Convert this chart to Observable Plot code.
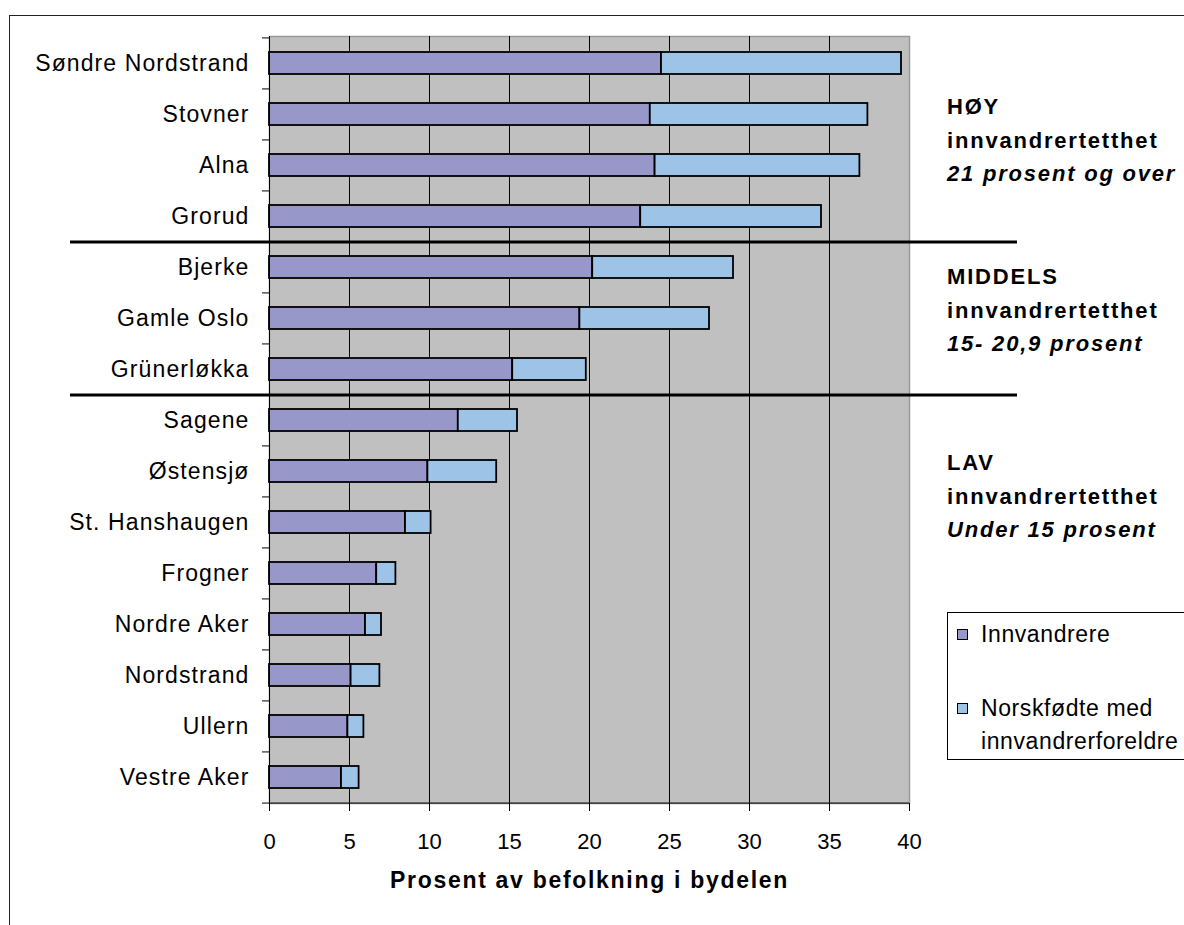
<!DOCTYPE html>
<html>
<head>
<meta charset="utf-8">
<script src="https://cdn.jsdelivr.net/npm/d3@7"></script>
<script src="https://cdn.jsdelivr.net/npm/@observablehq/plot@0.6"></script>
<style>
  html, body { margin: 0; padding: 0; background: #fff; }
  #wrap { position: relative; width: 1184px; height: 925px; overflow: hidden; font-family: "Liberation Sans", Arial, sans-serif; color: #000; }
  #outer { position: absolute; left: 9px; top: 15px; width: 2000px; height: 2000px; border-left: 1px solid #222; border-top: 1px solid #222; }
  #chart { position: absolute; left: 0; top: 0; }
  #chart svg [aria-label="y-axis tick label"] text { letter-spacing: 1.1px; }
  #chart svg [aria-label="text"] text { letter-spacing: 1.7px; }
  .note { position: absolute; left: 947px; font-size: 22px; line-height: 33.5px; font-weight: bold; letter-spacing: 1.8px; white-space: nowrap; }
  .note i { font-style: italic; }
  #legend { position: absolute; left: 947px; top: 612px; width: 400px; height: 146px; border: 1px solid #000; font-size: 23px; letter-spacing: 0.6px; }
  .li { position: absolute; left: 33px; white-space: nowrap; line-height: 33px; }
  .sw { position: absolute; left: 9px; width: 9px; height: 9px; border: 1px solid #000; }
</style>
</head>
<body>
<div id="wrap">
  <div id="outer"></div>
  <div id="chart"></div>
  <div class="note" style="top:90px">HØY<br>innvandrertetthet<br><i>21 prosent og over</i></div>
  <div class="note" style="top:260px">MIDDELS<br>innvandrertetthet<br><i>15- 20,9 prosent</i></div>
  <div class="note" style="top:446px">LAV<br>innvandrertetthet<br><i>Under 15 prosent</i></div>
  <div id="legend"></div>
</div>
<script>
// ---- data ----
const districts = ["Søndre Nordstrand","Stovner","Alna","Grorud","Bjerke","Gamle Oslo","Grünerløkka","Sagene","Østensjø","St. Hanshaugen","Frogner","Nordre Aker","Nordstrand","Ullern","Vestre Aker"];
const innvandrere = [24.5, 23.8, 24.1, 23.2, 20.2, 19.4, 15.2, 11.8, 9.9, 8.5, 6.7, 6.0, 5.1, 4.9, 4.5];
const norskfodte  = [15.0, 13.6, 12.8, 11.3, 8.8, 8.1, 4.6, 3.7, 4.3, 1.6, 1.2, 1.0, 1.8, 1.0, 1.1];
const seriesNames = ["Innvandrere", "Norskfødte med innvandrerforeldre"];
const seriesColors = ["#9797c9", "#9dc3e6"];
const xTicks = [0, 5, 10, 15, 20, 25, 30, 35, 40];
const gridTicks = [5, 10, 15, 20, 25, 30, 35];
const groupStarts = ["Bjerke", "Sagene"];
const xTitle = "Prosent av befolkning i bydelen";

// ---- table ----
const table = [];
districts.forEach((d, i) => {
  table.push({district: d, series: seriesNames[0], value: innvandrere[i]});
  table.push({district: d, series: seriesNames[1], value: norskfodte[i]});
});

const W = 1184, H = 925, mt = 36, mb = 122, ml = 269, mr = 275;
const step = (H - mt - mb) / districts.length;

const chart = Plot.plot({
  width: W,
  height: H,
  marginTop: mt,
  marginBottom: mb,
  marginLeft: ml,
  marginRight: mr,
  style: {fontFamily: "'Liberation Sans', Arial, sans-serif", fontSize: "22px", background: "transparent", color: "#000"},
  x: {domain: [0, 40], ticks: xTicks},
  y: {domain: districts, paddingInner: 0.575, paddingOuter: 0.2875},
  color: {domain: seriesNames, range: seriesColors},
  marks: [
    Plot.frame({fill: "#c0c0c0", stroke: "#999999", strokeWidth: 1.5}),
    Plot.ruleX(gridTicks, {stroke: "#000", strokeWidth: 1}),
    Plot.barX(table, {y: "district", x: "value", fill: "series", stroke: "#000", strokeWidth: 1.8}),
    Plot.ruleX([0], {stroke: "#000", strokeWidth: 1}),
    Plot.ruleY([districts[districts.length - 1]], {dy: step / 2, insetLeft: -7, stroke: "#000", strokeWidth: 1}),
    Plot.axisY({tickSize: 7, tickFormat: () => "", dy: -step / 2, label: null, stroke: "#000"}),
    Plot.axisY({tickSize: 0, tickPadding: 20, label: null, fontSize: 23, fill: "#000"}),
    Plot.axisX({ticks: xTicks, tickSize: 8, tickPadding: 22, label: null, fontSize: 22, fill: "#000", stroke: "#000"}),
    Plot.ruleY(groupStarts, {dy: -step / 2, stroke: "#000", strokeWidth: 3, insetLeft: -199, insetRight: -108}),
    Plot.text([xTitle], {frameAnchor: "bottom", dy: 84, fontWeight: "bold", fontSize: 23, fill: "#000"})
  ]
});
document.getElementById("chart").appendChild(chart);

// ---- legend ----
const legend = document.getElementById("legend");
const legendRows = [[21], [95, 128]];
seriesNames.forEach((name, i) => {
  const sw = document.createElement("div");
  sw.className = "sw";
  sw.style.background = seriesColors[i];
  sw.style.top = (legendRows[i][0] - 5) + "px";
  legend.appendChild(sw);
  const parts = i === 0 ? [name] : ["Norskfødte med", "innvandrerforeldre"];
  parts.forEach((p, j) => {
    const t = document.createElement("div");
    t.className = "li";
    t.textContent = p;
    t.style.top = (legendRows[i][j] - 16.5) + "px";
    legend.appendChild(t);
  });
});
</script>
</body>
</html>
